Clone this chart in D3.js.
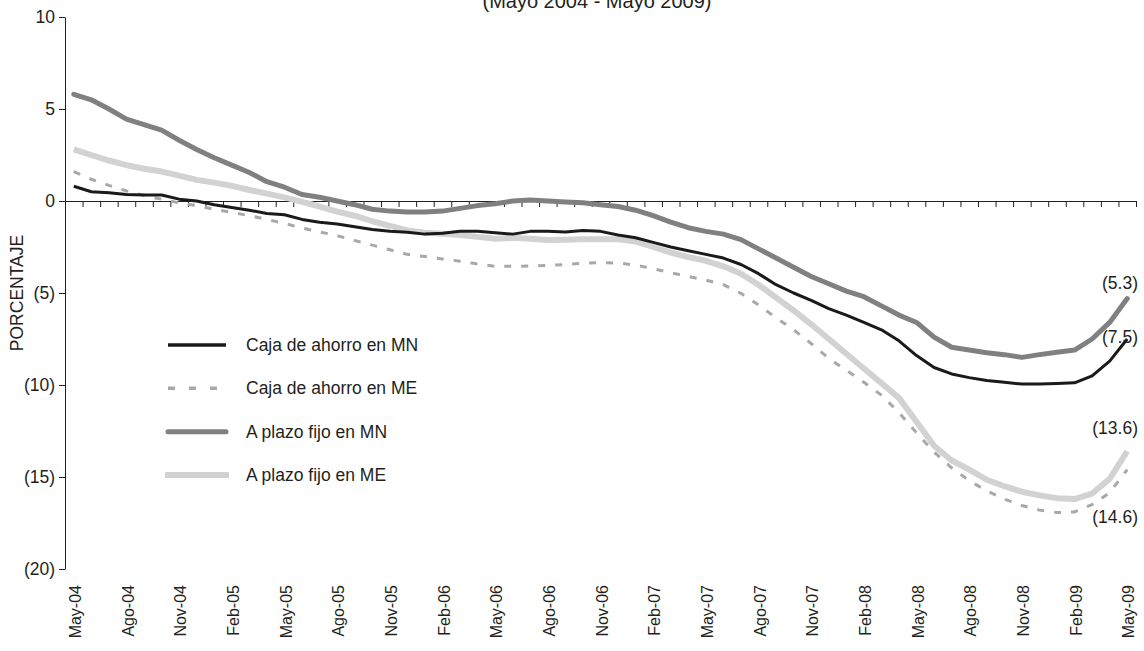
<!DOCTYPE html>
<html><head><meta charset="utf-8">
<script src="https://cdn.jsdelivr.net/npm/d3@7"></script>
<style>
html,body{margin:0;padding:0;background:#fff;}
svg{display:block;font-family:"Liberation Sans",Arial,sans-serif;}
</style></head>
<body><svg id="c" width="1144" height="651"></svg>
<script>
const months = ["May-04","Jun-04","Jul-04","Ago-04","Sep-04","Oct-04","Nov-04","Dic-04","Ene-05","Feb-05","Mar-05","Abr-05",
"May-05","Jun-05","Jul-05","Ago-05","Sep-05","Oct-05","Nov-05","Dic-05","Ene-06","Feb-06","Mar-06","Abr-06",
"May-06","Jun-06","Jul-06","Ago-06","Sep-06","Oct-06","Nov-06","Dic-06","Ene-07","Feb-07","Mar-07","Abr-07",
"May-07","Jun-07","Jul-07","Ago-07","Sep-07","Oct-07","Nov-07","Dic-07","Ene-08","Feb-08","Mar-08","Abr-08",
"May-08","Jun-08","Jul-08","Ago-08","Sep-08","Oct-08","Nov-08","Dic-08","Ene-09","Feb-09","Mar-09","Abr-09","May-09"];
const xTickLabels = ["May-04","Ago-04","Nov-04","Feb-05","May-05","Ago-05","Nov-05","Feb-06","May-06","Ago-06","Nov-06",
"Feb-07","May-07","Ago-07","Nov-07","Feb-08","May-08","Ago-08","Nov-08","Feb-09","May-09"];
const yTicks = [10,5,0,-5,-10,-15,-20];
const seriesNames = ["Caja de ahorro en MN","Caja de ahorro en ME","A plazo fijo en MN","A plazo fijo en ME"];
const cajaMN = [0.8,0.5,0.45,0.35,0.33,0.33,0.1,0.0,-0.2,-0.35,-0.5,-0.68,-0.75,-1.0,-1.15,-1.25,-1.4,-1.55,-1.65,-1.7,
-1.8,-1.75,-1.65,-1.65,-1.72,-1.8,-1.65,-1.65,-1.68,-1.6,-1.65,-1.85,-2.0,-2.25,-2.5,-2.7,-2.9,-3.1,-3.45,-3.95,
-4.55,-5.0,-5.4,-5.85,-6.2,-6.6,-7.0,-7.6,-8.4,-9.05,-9.4,-9.6,-9.75,-9.85,-9.95,-9.95,-9.92,-9.88,-9.5,-8.7,-7.5];
const cajaME = [1.6,1.18,0.85,0.55,0.3,0.1,-0.1,-0.25,-0.45,-0.62,-0.8,-1.0,-1.22,-1.47,-1.68,-1.88,-2.15,-2.4,-2.65,-2.9,
-3.02,-3.15,-3.27,-3.42,-3.55,-3.55,-3.53,-3.5,-3.45,-3.38,-3.35,-3.37,-3.48,-3.68,-3.9,-4.1,-4.3,-4.55,-5.02,-5.65,
-6.35,-7.0,-7.75,-8.55,-9.2,-9.85,-10.55,-11.5,-12.6,-13.65,-14.5,-15.2,-15.75,-16.2,-16.55,-16.8,-16.93,-16.9,-16.5,-15.85,-14.6];
const plazoMN = [5.8,5.5,5.0,4.45,4.15,3.85,3.3,2.8,2.35,1.95,1.55,1.05,0.75,0.35,0.2,0.0,-0.2,-0.45,-0.55,-0.6,
-0.6,-0.55,-0.4,-0.25,-0.15,0.0,0.05,0.0,-0.05,-0.1,-0.2,-0.3,-0.5,-0.8,-1.15,-1.45,-1.65,-1.8,-2.1,-2.6,
-3.1,-3.6,-4.1,-4.5,-4.9,-5.2,-5.7,-6.2,-6.6,-7.4,-7.95,-8.1,-8.25,-8.35,-8.5,-8.35,-8.22,-8.1,-7.5,-6.6,-5.3];
const plazoME = [2.8,2.5,2.2,1.95,1.75,1.6,1.38,1.15,1.0,0.82,0.6,0.4,0.2,-0.05,-0.3,-0.58,-0.8,-1.1,-1.35,-1.6,
-1.72,-1.78,-1.85,-1.95,-2.05,-2.0,-2.05,-2.12,-2.1,-2.08,-2.08,-2.08,-2.2,-2.5,-2.8,-3.05,-3.25,-3.55,-3.95,-4.55,
-5.25,-5.95,-6.7,-7.5,-8.3,-9.1,-9.9,-10.7,-12.0,-13.3,-14.1,-14.6,-15.15,-15.5,-15.8,-16.0,-16.15,-16.2,-15.9,-15.1,-13.6];
const endLabels = ["(7.5)","(14.6)","(5.3)","(13.6)"];
const title = "(Mayo 2004 - Mayo 2009)";
const yTitle = "PORCENTAJE";

const svg = d3.select("#c");
const FONT = 17.5;
const XFONT = 16;
const xEdge = d3.scaleLinear().domain([-0.5, months.length - 0.5]).range([65, 1136]);
const y = d3.scaleLinear().domain([-20, 10]).range([569, 17]);

const styles = [
  {data: plazoME, color: "#d2d2d2", width: 6, dash: null, cap: "butt"},
  {data: plazoMN, color: "#808080", width: 5, dash: null, cap: "round"},
  {data: cajaME, color: "#a8a8a8", width: 3, dash: "7,10", cap: "butt"},
  {data: cajaMN, color: "#1a1a1a", width: 3, dash: null, cap: "butt"}
];

// title (top partly outside the frame, as in the reference)
svg.append("text").attr("x", 597).attr("y", 8).attr("text-anchor", "middle")
  .attr("font-size", 20).attr("fill", "#231f20").text(title);

// y axis
const yAxis = d3.axisLeft(y).tickValues(yTicks).tickSize(6).tickSizeOuter(0).tickPadding(4)
  .tickFormat(d => d < 0 ? `(${-d})` : `${d}`);
const gy = svg.append("g").attr("transform", "translate(65,0)").call(yAxis);
gy.selectAll("text").attr("font-size", FONT).attr("font-family", "Liberation Sans, Arial, sans-serif").attr("fill", "#231f20");
gy.selectAll("line,path").attr("stroke", "#231f20");

svg.append("text").attr("transform", `translate(23,${y(-5)}) rotate(-90)`).attr("text-anchor", "middle")
  .attr("font-size", FONT).attr("fill", "#231f20").text(yTitle);

// zero axis with month ticks
const zeroAxis = d3.axisBottom(xEdge).tickValues(d3.range(months.length).map(i => i + 0.5))
  .tickSize(6).tickSizeOuter(0).tickFormat("");
const gz = svg.append("g").attr("transform", `translate(0,${y(0)})`).call(zeroAxis);
gz.selectAll("line,path").attr("stroke", "#231f20");

// bottom labels
const labelIdx = xTickLabels.map(l => months.indexOf(l));
const xLab = d3.axisBottom(xEdge).tickValues(labelIdx).tickSize(0).tickFormat(i => months[i]);
const gx = svg.append("g").attr("transform", "translate(1,585)").call(xLab);
gx.select(".domain").remove();
gx.selectAll("text").attr("font-size", XFONT).attr("font-family", "Liberation Sans, Arial, sans-serif")
  .attr("fill", "#231f20").attr("text-anchor", "end").attr("transform", "rotate(-90)")
  .attr("x", 0).attr("y", 0).attr("dx", 0).attr("dy", "0.35em");

// lines
const line = d3.line().x((d, i) => xEdge(i)).y(d => y(d));
styles.forEach(s => {
  svg.append("path").datum(s.data).attr("fill", "none").attr("stroke", s.color)
    .attr("stroke-width", s.width).attr("stroke-dasharray", s.dash).attr("stroke-linecap", s.cap)
    .attr("stroke-linejoin", "round").attr("d", line);
});

// end labels
const endPos = [{i:0, dy: 4}, {i:1, dy: 53}, {i:2, dy: -10}, {i:3, dy: -17}];
const series = [cajaMN, cajaME, plazoMN, plazoME];
endPos.forEach(p => {
  const d = series[p.i];
  svg.append("text").attr("x", 1138).attr("y", y(d[d.length - 1]) + p.dy).attr("text-anchor", "end")
    .attr("font-size", FONT).attr("fill", "#231f20").text(endLabels[p.i]);
});

// legend
const legY = d3.scalePoint().domain(seriesNames).range([345, 475]);
const legStyle = [
  {color: "#1a1a1a", width: 3.5, dash: null, cap: "butt", x1: 168, x2: 226},
  {color: "#a8a8a8", width: 3.5, dash: "7,14", cap: "butt", x1: 168, x2: 226},
  {color: "#808080", width: 5, dash: null, cap: "round", x1: 168, x2: 226},
  {color: "#d2d2d2", width: 6, dash: null, cap: "butt", x1: 165, x2: 229}
];
seriesNames.forEach((n, k) => {
  const ls = legStyle[k];
  svg.append("line").attr("x1", ls.x1).attr("x2", ls.x2).attr("y1", legY(n)).attr("y2", legY(n))
    .attr("stroke", ls.color).attr("stroke-width", ls.width).attr("stroke-dasharray", ls.dash)
    .attr("stroke-linecap", ls.cap);
  svg.append("text").attr("x", 246).attr("y", legY(n)).attr("dy", "0.35em")
    .attr("font-size", FONT).attr("fill", "#231f20").text(n);
});
</script></body></html>
